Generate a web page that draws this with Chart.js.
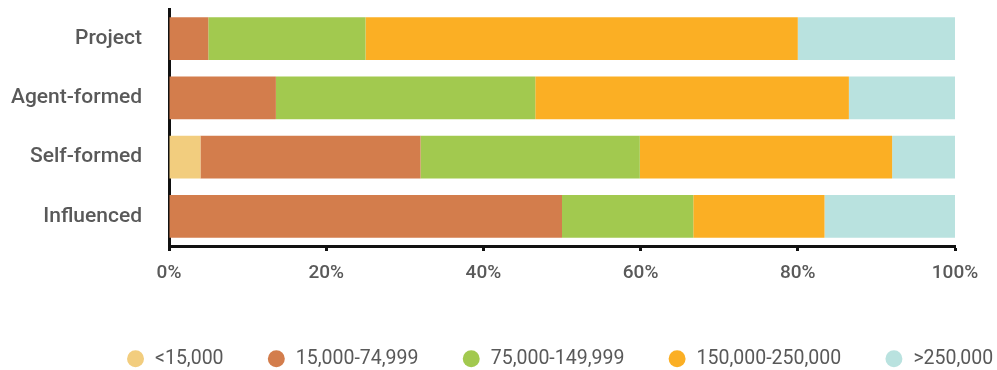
<!DOCTYPE html>
<html>
<head>
<meta charset="utf-8">
<script src="https://cdn.jsdelivr.net/npm/chart.js@4.4.1/dist/chart.umd.min.js"></script>
<style>
  html, body { margin: 0; padding: 0; background: #fff; }
</style>
</head>
<body>
<canvas id="incomeChart" width="997" height="370"></canvas>
<script>
const categories = ['Project', 'Agent-formed', 'Self-formed', 'Influenced'];
const incomeBands = ['<15,000', '15,000-74,999', '75,000-149,999', '150,000-250,000', '>250,000'];
const under15k = [0, 0, 4, 0];
const from15kTo75k = [5, 13.6, 28, 50];
const from75kTo150k = [20, 33, 27.9, 16.7];
const from150kTo250k = [55, 39.9, 32.1, 16.7];
const over250k = [20, 13.5, 8, 16.6];
const bandColors = ['#f2cd7e', '#d37d4c', '#a2c94f', '#fbaf24', '#b9e2df'];
const xTicks = [0, 20, 40, 60, 80, 100];

const textGrey = '#595959';
const series = [under15k, from15kTo75k, from75kTo150k, from150kTo250k, over250k];

// legend sits a bit right of centre
const legendShift = {
  id: 'legendShift',
  afterLayout(chart) {
    chart.legend.left += 61;
    chart.legend.right += 61;
  }
};

new Chart(document.getElementById('incomeChart'), {
  type: 'bar',
  data: {
    labels: categories,
    datasets: series.map((values, i) => ({
      label: incomeBands[i],
      data: values,
      backgroundColor: bandColors[i],
      borderWidth: 0,
      categoryPercentage: 0.8,
      barPercentage: 0.9
    }))
  },
  plugins: [legendShift],
  options: {
    indexAxis: 'y',
    responsive: false,
    animation: false,
    layout: { padding: { top: 9, right: 0, bottom: 0, left: 0 } },
    plugins: {
      tooltip: { enabled: false },
      legend: {
        position: 'bottom',
        maxHeight: 64,
        labels: {
          usePointStyle: true,
          pointStyle: 'circle',
          boxWidth: 20,
          boxHeight: 12,
          padding: 43,
          color: textGrey,
          font: { family: 'Roboto', size: 19.5 }
        }
      }
    },
    scales: {
      x: {
        stacked: true,
        min: 0,
        max: 100,
        afterBuildTicks: (scale) => { scale.ticks = xTicks.map(v => ({ value: v })); },
        afterFit: (scale) => { scale.height = 60; },
        grid: { drawOnChartArea: false, drawTicks: true, tickLength: 5, tickColor: '#111', tickWidth: 3 },
        border: { color: '#111', width: 3 },
        ticks: {
          padding: 11,
          color: textGrey,
          font: { family: 'Roboto', size: 19, weight: '500' },
          callback: (v) => v + '%'
        }
      },
      y: {
        stacked: true,
        z: 1,
        afterFit: (scale) => {
          scale.width = 169;
          scale.paddingTop = 0;
          scale.paddingBottom = 0;
        },
        grid: { display: false, drawTicks: false },
        border: { color: '#111', width: 3 },
        ticks: {
          padding: 27,
          color: textGrey,
          font: { family: 'Roboto', size: 21, weight: '500' }
        }
      },
      // keeps a right margin beside the bars
      yRight: {
        type: 'category',
        axis: 'y',
        position: 'right',
        grid: { display: false },
        border: { display: false },
        ticks: { display: false },
        afterFit: (scale) => { scale.width = 42; }
      }
    }
  }
});
</script>
</body>
</html>
